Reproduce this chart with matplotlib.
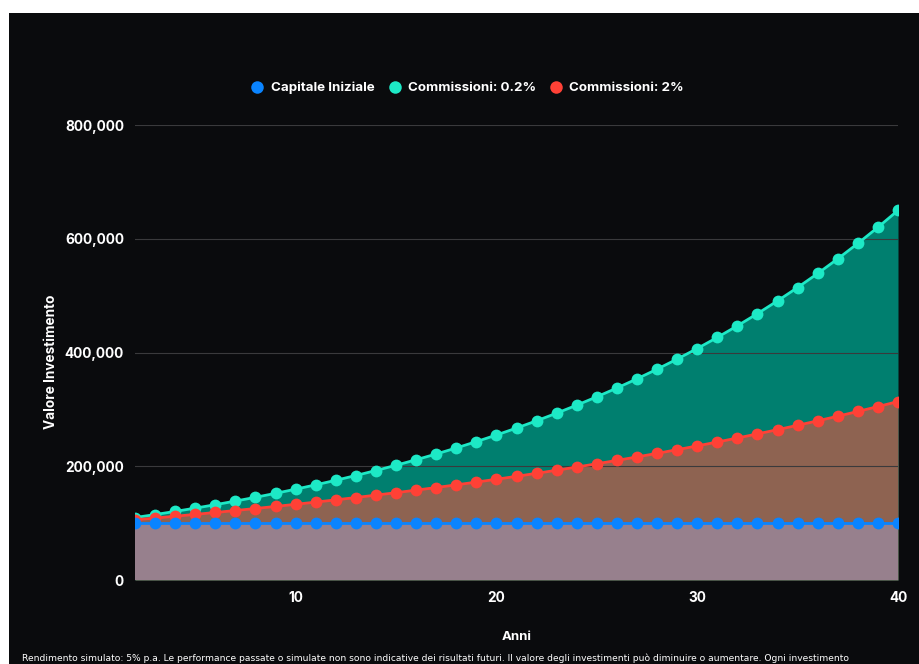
import matplotlib
matplotlib.use("Agg")
import matplotlib.pyplot as plt
from matplotlib.patches import Rectangle
from matplotlib.ticker import FuncFormatter

years = list(range(2, 41))
capitale = [100000] * len(years)
comm_02 = [109809, 115069, 120581, 126357, 132409, 138752, 145398, 152363, 159661,
           167309, 175323, 183721, 192521, 201743, 211407, 221533, 232144, 243264,
           254916, 267127, 279922, 293330, 307381, 322104, 337533, 353701, 370643,
           388397, 407001, 426496, 446925, 468333, 490766, 514274, 538908, 564722,
           591772, 620118, 649822]
comm_2 = [105884, 108955, 112115, 115366, 118712, 122155, 125697, 129342, 133093,
          136953, 140925, 145012, 149217, 153544, 157997, 162579, 167294, 172145,
          177137, 182274, 187560, 192999, 198596, 204356, 210282, 216380, 222655,
          229112, 235757, 242594, 249629, 256868, 264317, 271983, 279870, 287986,
          296338, 304932, 313775]
labels = ["Capitale Iniziale", "Commissioni: 0.2%", "Commissioni: 2%"]
x_ticks = [10, 20, 30, 40]
y_ticks = [0, 200000, 400000, 600000, 800000]

BG = "#0a0b0d"
TXT = "#ffffff"
plt.rcParams["font.family"] = ["Inter", "DejaVu Sans"]

fig = plt.figure(figsize=(9.19, 6.64), dpi=100, facecolor="white")
fig.patches.append(Rectangle((9 / 919, 0), 1, 1 - 13 / 664, transform=fig.transFigure,
                             facecolor=BG, edgecolor="none", zorder=-10))

ax = fig.add_axes([135 / 919, 84 / 664, 763 / 919, 455 / 664])
ax.set_facecolor(BG)
ax.set_zorder(1)

# areas drawn back to front
ax.fill_between(years, 0, comm_02, color="#007f6f", lw=0, zorder=1)
ax.fill_between(years, 0, comm_2, color="#8e6351", lw=0, zorder=2)
ax.fill_between(years, 0, capitale, color="#97808d", lw=0, zorder=3)

ax.plot(years, comm_02, color="#1de9c6", lw=2, marker="o", ms=8.5, mew=0, zorder=5, label=labels[1])
ax.plot(years, comm_2, color="#ff4136", lw=2, marker="o", ms=8.5, mew=0, zorder=5, label=labels[2])
ax.plot(years, capitale, color="#0a84ff", lw=2, marker="o", ms=8.5, mew=0, zorder=5, label=labels[0])

ax.set_xlim(2, 40)
ax.set_ylim(0, 800000)
ax.set_xticks(x_ticks)
ax.set_yticks(y_ticks)
ax.yaxis.set_major_formatter(FuncFormatter(lambda v, p: f"{int(v):,}"))
ax.grid(axis="y", color="#3a3a3c", lw=0.8, zorder=4)
ax.set_axisbelow(False)
for s in ax.spines.values():
    s.set_visible(False)
ax.tick_params(axis="both", length=0, colors=TXT, labelsize=9.8)
ax.tick_params(axis="y", pad=8)
ax.tick_params(axis="x", pad=8)
for t in ax.get_xticklabels() + ax.get_yticklabels():
    t.set_fontweight("bold")

ax.set_xlabel("Anni", color=TXT, fontsize=9.5, fontweight="bold", labelpad=19)
ax.set_ylabel("Valore Investimento", color=TXT, fontsize=9.8, fontweight="bold")
ax.yaxis.set_label_coords(-77 / 763, 0.479)

h, l = ax.get_legend_handles_labels()
order = [2, 0, 1]
leg = fig.legend([h[i] for i in order], [l[i] for i in order], loc="center",
                 bbox_to_anchor=(468 / 919, 1 - 88 / 664), ncol=3, frameon=False,
                 handlelength=0.8, handletextpad=0.6, columnspacing=1.1,
                 labelcolor=TXT, prop={"weight": "bold", "size": 9.6})
for line in leg.get_lines():
    line.set_linestyle("none")
    line.set_markersize(9)

fig.text(22 / 919, 1 - 658 / 664,
         "Rendimento simulato: 5% p.a. Le performance passate o simulate non sono indicative "
         "dei risultati futuri. Il valore degli investimenti può diminuire o aumentare. Ogni investimento",
         color=TXT, fontsize=6.55, va="center", ha="left",
         family=["Liberation Sans Narrow", "DejaVu Sans"])

fig.savefig("out.png", dpi=100, facecolor=fig.get_facecolor())
